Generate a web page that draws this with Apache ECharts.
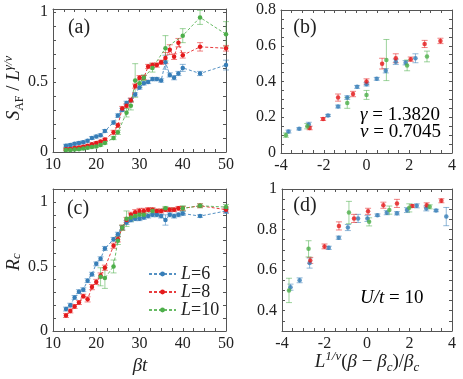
<!DOCTYPE html>
<html>
<head>
<meta charset="utf-8">
<script src="https://cdn.jsdelivr.net/npm/echarts@6/dist/echarts.min.js"></script>
<style>
  html, body { margin: 0; padding: 0; background: #fff; }
  #chart { width: 463px; height: 379px; }
</style>
</head>
<body>
<div id="chart"></div>
<script>
const SERIF = 'Liberation Serif';
const C6 = '#377eb8', C8 = '#e41a1c', C10 = '#4daf4a';

// (a) S_AF / L^(gamma/nu) vs beta*t
const aX6 = [13, 14, 15, 16, 17, 18, 19, 20, 21, 22, 24, 25, 26, 27, 28, 29, 30, 31, 32, 33, 34, 35, 36, 37, 38, 39, 40, 44, 50];
const aY6 = [0.045, 0.05, 0.058, 0.065, 0.07, 0.08, 0.10, 0.11, 0.12, 0.15, 0.21, 0.26, 0.30, 0.35, 0.37, 0.41, 0.46, 0.49, 0.50, 0.52, 0.52, 0.51, 0.64, 0.55, 0.53, 0.56, 0.60, 0.56, 0.62];
const aE6 = [0.01, 0.01, 0.01, 0.01, 0.01, 0.01, 0.01, 0.01, 0.01, 0.01, 0.012, 0.012, 0.012, 0.012, 0.012, 0.012, 0.012, 0.012, 0.012, 0.012, 0.012, 0.012, 0.05, 0.015, 0.015, 0.015, 0.025, 0.015, 0.035];
const aX8 = [13, 14, 15, 16, 17, 18, 19, 20, 21, 22, 24, 25, 26, 27, 28, 29, 30, 31, 32, 33, 34, 35, 36, 37, 38, 39, 40, 44, 50];
const aY8 = [0.02, 0.022, 0.028, 0.032, 0.038, 0.045, 0.055, 0.065, 0.075, 0.09, 0.14, 0.19, 0.31, 0.33, 0.37, 0.47, 0.53, 0.53, 0.61, 0.62, 0.62, 0.64, 0.67, 0.73, 0.68, 0.78, 0.69, 0.75, 0.74];
const aE8 = [0.008, 0.008, 0.008, 0.008, 0.008, 0.008, 0.008, 0.008, 0.008, 0.008, 0.015, 0.015, 0.015, 0.015, 0.015, 0.015, 0.015, 0.015, 0.015, 0.015, 0.015, 0.015, 0.04, 0.035, 0.02, 0.03, 0.02, 0.03, 0.02];
const aX10 = [13, 14, 15, 16, 17, 18, 19, 20, 21, 22, 24, 25, 27, 28, 29, 30, 31, 33, 36, 40, 44, 50];
const aY10 = [0.015, 0.015, 0.018, 0.02, 0.025, 0.03, 0.035, 0.04, 0.05, 0.065, 0.10, 0.14, 0.28, 0.33, 0.51, 0.49, 0.53, 0.60, 0.74, 0.83, 0.96, 0.84];
const aE10 = [0.008, 0.008, 0.008, 0.008, 0.008, 0.008, 0.008, 0.008, 0.008, 0.008, 0.012, 0.015, 0.03, 0.03, 0.12, 0.03, 0.02, 0.03, 0.09, 0.05, 0.05, 0.09];

// (b) scaling collapse of (a)
const bX6 = [-3.65, -3.15, -2.7, -1.8, -1.33, -0.9, -0.44, 0.0, 0.48, 0.9, 1.37, 1.83, 2.29];
const bY6 = [0.12, 0.135, 0.16, 0.21, 0.26, 0.31, 0.37, 0.385, 0.415, 0.46, 0.51, 0.505, 0.53];
const bE6 = [0.008, 0.006, 0.012, 0.006, 0.008, 0.01, 0.008, 0.01, 0.008, 0.012, 0.015, 0.012, 0.025];
const bX8 = [-2.66, -2.03, -1.33, -0.63, 0.0, 0.73, 1.37, 2.07, 2.72, 3.46];
const bY8 = [0.14, 0.19, 0.31, 0.33, 0.40, 0.50, 0.53, 0.525, 0.61, 0.627];
const bE8 = [0.01, 0.008, 0.02, 0.015, 0.015, 0.03, 0.025, 0.012, 0.02, 0.015];
const bX10 = [-3.77, -2.77, -0.9, 0.0, 0.93, 1.9, 2.83];
const bY10 = [0.10, 0.15, 0.28, 0.325, 0.52, 0.49, 0.54];
const bE10 = [0.012, 0.015, 0.03, 0.025, 0.115, 0.03, 0.03];

// (c) R_c vs beta*t
const cX6 = [13, 14, 15, 16, 17, 18, 19, 20, 21, 22, 24, 25, 26, 27, 28, 29, 30, 31, 32, 33, 34, 35, 36, 37, 38, 39, 40, 44, 50];
const cY6 = [0.17, 0.20, 0.26, 0.305, 0.32, 0.39, 0.44, 0.52, 0.56, 0.64, 0.71, 0.75, 0.80, 0.84, 0.86, 0.87, 0.87, 0.88, 0.89, 0.90, 0.90, 0.89, 0.86, 0.90, 0.89, 0.90, 0.91, 0.89, 0.93];
const cE6 = [0.015, 0.015, 0.015, 0.015, 0.015, 0.015, 0.015, 0.015, 0.015, 0.015, 0.015, 0.015, 0.015, 0.015, 0.015, 0.015, 0.015, 0.015, 0.015, 0.015, 0.015, 0.015, 0.04, 0.015, 0.015, 0.015, 0.015, 0.01, 0.02];
const cX8 = [13, 14, 15, 16, 17, 18, 19, 20, 21, 22, 24, 25, 26, 27, 28, 29, 30, 31, 32, 33, 34, 35, 36, 37, 38, 39, 40, 44, 50];
const cY8 = [0.12, 0.155, 0.19, 0.22, 0.27, 0.245, 0.34, 0.38, 0.43, 0.49, 0.66, 0.71, 0.80, 0.86, 0.90, 0.92, 0.93, 0.93, 0.94, 0.94, 0.93, 0.93, 0.94, 0.94, 0.94, 0.95, 0.95, 0.97, 0.94];
const cE8 = [0.015, 0.015, 0.015, 0.015, 0.015, 0.02, 0.02, 0.02, 0.02, 0.02, 0.02, 0.02, 0.02, 0.02, 0.02, 0.02, 0.02, 0.02, 0.015, 0.015, 0.015, 0.015, 0.015, 0.015, 0.015, 0.015, 0.015, 0.015, 0.02];
const cX10 = [21, 22, 24, 25, 26, 27, 28, 29, 30, 31, 33, 36, 40, 44, 50];
const cY10 = [0.42, 0.41, 0.50, 0.70, 0.80, 0.87, 0.88, 0.89, 0.90, 0.90, 0.93, 0.95, 0.95, 0.97, 0.96];
const cE10 = [0.07, 0.08, 0.05, 0.03, 0.02, 0.06, 0.03, 0.02, 0.02, 0.02, 0.02, 0.015, 0.02, 0.015, 0.02];

// (d) scaling collapse of (c)
const dX6 = [-3.6, -3.17, -2.7, -1.8, -1.33, -0.9, -0.42, 0.02, 0.49, 0.93, 1.41, 1.88, 2.34, 2.79, 3.25, 3.73];
const dY6 = [0.516, 0.55, 0.635, 0.71, 0.76, 0.81, 0.855, 0.855, 0.871, 0.883, 0.88, 0.896, 0.917, 0.904, 0.894, 0.864];
const dE6 = [0.015, 0.012, 0.025, 0.008, 0.008, 0.015, 0.02, 0.015, 0.006, 0.01, 0.008, 0.012, 0.01, 0.012, 0.006, 0.045];
const dX8 = [-2.67, -2.0, -1.32, -0.61, 0.05, 0.77, 1.41, 2.13, 2.81, 3.5];
const dY8 = [0.648, 0.717, 0.818, 0.855, 0.89, 0.92, 0.929, 0.916, 0.92, 0.942];
const dE8 = [0.015, 0.012, 0.02, 0.02, 0.015, 0.015, 0.02, 0.006, 0.012, 0.01];
const dX10 = [-3.67, -2.75, -0.85, 0.1, 1.05, 1.99, 2.95];
const dY10 = [0.50, 0.705, 0.884, 0.838, 0.896, 0.907, 0.912];
const dE10 = [0.06, 0.04, 0.055, 0.02, 0.02, 0.02, 0.01];

const legendNames = ['L=6', 'L=8', 'L=10'];

function pts(xs, ys, es) {
  return xs.map((x, i) => [x, ys[i], es[i]]);
}

function fmt(v) {
  return String(parseFloat(v.toFixed(2)));
}

// one axis; step = tick spacing, every = label spacing
function axis(gi, pos, min, max, step, every, labels) {
  return {
    type: 'value', gridIndex: gi, position: pos,
    min: min, max: max, interval: step,
    axisLine: { show: true, onZero: false, lineStyle: { color: '#555', width: 1 } },
    axisTick: { show: true, inside: true, length: 3, lineStyle: { color: '#555', width: 1 } },
    splitLine: { show: false },
    axisLabel: {
      show: labels, color: '#222', fontFamily: SERIF, fontSize: 16, margin: 5,
      formatter: function (v) {
        const k = v / every;
        return Math.abs(k - Math.round(k)) < 1e-6 ? fmt(v) : '';
      }
    }
  };
}

function errBars(color) {
  return function (params, api) {
    const x = api.value(0), y = api.value(1), e = api.value(2);
    const t = api.coord([x, y + e]), b = api.coord([x, y - e]);
    const hw = 3;
    const st = { stroke: color, lineWidth: 1, opacity: 0.55 };
    return {
      type: 'group',
      children: [
        { type: 'line', shape: { x1: t[0], y1: t[1], x2: b[0], y2: b[1] }, style: st },
        { type: 'line', shape: { x1: t[0] - hw, y1: t[1], x2: t[0] + hw, y2: t[1] }, style: st },
        { type: 'line', shape: { x1: b[0] - hw, y1: b[1], x2: b[0] + hw, y2: b[1] }, style: st }
      ]
    };
  };
}

const series = [];
function addSet(gi, name, color, data, withLine) {
  series.push({
    type: 'custom', name: name + '-err', xAxisIndex: gi * 2, yAxisIndex: gi * 2,
    renderItem: errBars(color), data: data, encode: { x: 0, y: 1 }, z: 2, silent: true
  });
  series.push({
    type: withLine ? 'line' : 'scatter', name: name,
    xAxisIndex: gi * 2, yAxisIndex: gi * 2,
    data: data.map(d => [d[0], d[1]]),
    symbol: 'circle', symbolSize: 4.5,
    itemStyle: { color: color },
    lineStyle: { color: color, width: 1, type: [3, 2], opacity: 0.85 },
    z: 3, animation: false
  });
}

addSet(0, 'a6', C6, pts(aX6, aY6, aE6), true);
addSet(0, 'a8', C8, pts(aX8, aY8, aE8), true);
addSet(0, 'a10', C10, pts(aX10, aY10, aE10), true);
addSet(1, 'b6', C6, pts(bX6, bY6, bE6), false);
addSet(1, 'b8', C8, pts(bX8, bY8, bE8), false);
addSet(1, 'b10', C10, pts(bX10, bY10, bE10), false);
addSet(2, legendNames[0], C6, pts(cX6, cY6, cE6), true);
addSet(2, legendNames[1], C8, pts(cX8, cY8, cE8), true);
addSet(2, legendNames[2], C10, pts(cX10, cY10, cE10), true);
addSet(3, 'd6', C6, pts(dX6, dY6, dE6), false);
addSet(3, 'd8', C8, pts(dX8, dY8, dE8), false);
addSet(3, 'd10', C10, pts(dX10, dY10, dE10), false);

const xAxes = [
  axis(0, 'bottom', 10, 50, 2.5, 10, true), axis(0, 'top', 10, 50, 2.5, 10, false),
  axis(1, 'bottom', -4, 4, 0.5, 2, true), axis(1, 'top', -4, 4, 0.5, 2, false),
  axis(2, 'bottom', 10, 50, 2.5, 10, true), axis(2, 'top', 10, 50, 2.5, 10, false),
  axis(3, 'bottom', -4, 4, 0.5, 2, true), axis(3, 'top', -4, 4, 0.5, 2, false)
];
const yAxes = [
  axis(0, 'left', 0, 1.02, 0.1, 0.5, true), axis(0, 'right', 0, 1.02, 0.1, 0.5, false),
  axis(1, 'left', 0, 0.8, 0.05, 0.2, true), axis(1, 'right', 0, 0.8, 0.05, 0.2, false),
  axis(2, 'left', 0, 1.1, 0.1, 0.5, true), axis(2, 'right', 0, 1.1, 0.1, 0.5, false),
  axis(3, 'left', 0.3, 1.0, 0.05, 0.2, true), axis(3, 'right', 0.3, 1.0, 0.05, 0.2, false)
];

const rich = {
  i: { fontFamily: SERIF, fontStyle: 'italic', fontSize: 19, color: '#222' },
  r: { fontFamily: SERIF, fontSize: 19, color: '#222' },
  sub: { fontFamily: SERIF, fontSize: 12, color: '#222', verticalAlign: 'bottom', lineHeight: 14 },
  subi: { fontFamily: SERIF, fontStyle: 'italic', fontSize: 13, color: '#222', verticalAlign: 'bottom', lineHeight: 14 },
  sup: { fontFamily: SERIF, fontStyle: 'italic', fontSize: 13, color: '#222', verticalAlign: 'top', lineHeight: 24 }
};

function txt(x, y, text, size, rot) {
  return {
    type: 'text', x: x, y: y, rotation: rot || 0,
    style: {
      text: text, fontFamily: SERIF, fontSize: size, fill: '#222',
      align: 'center', verticalAlign: 'middle', rich: rich
    }
  };
}

const chart = echarts.init(document.getElementById('chart'));
chart.setOption({
  animation: false,
  backgroundColor: '#fff',
  grid: [
    { left: 53, top: 9, width: 173, height: 143, outerBoundsMode: 'none' },
    { left: 281, top: 10, width: 171, height: 143, outerBoundsMode: 'none' },
    { left: 53, top: 189, width: 173, height: 142, outerBoundsMode: 'none' },
    { left: 282, top: 189, width: 170, height: 142, outerBoundsMode: 'none' }
  ],
  xAxis: xAxes,
  yAxis: yAxes,
  legend: {
    data: legendNames, orient: 'vertical', left: 143, top: 260,
    itemWidth: 27, itemHeight: 6, itemGap: 0,
    formatter: function (n) { return '{i|L}{r|=' + n.slice(2) + '}'; },
    textStyle: { rich: {
      i: { fontFamily: SERIF, fontStyle: 'italic', fontSize: 18, color: '#222', lineHeight: 19 },
      r: { fontFamily: SERIF, fontSize: 18, color: '#222', lineHeight: 19 }
    } }
  },
  graphic: [
    txt(79, 28, '(a)', 20),
    txt(305, 28, '(b)', 20),
    txt(78, 209, '(c)', 20),
    txt(305, 206, '(d)', 20),
    txt(14, 88, '{i|S}{sub|AF}{r| / }{i|L}{sup|γ/ν}', 19, Math.PI / 2),
    txt(14, 262, '{i|R}{subi|c}', 19, Math.PI / 2),
    txt(140, 366, '{i|βt}', 19),
    txt(367, 362, '{i|L}{sup|1/ν}{r|(}{i|β}{r| − }{i|β}{subi|c}{r|)/}{i|β}{subi|c}', 19),
    { type: 'text', x: 360, y: 115, style: { text: '{i|γ}{r| = 1.3820}', rich: rich, verticalAlign: 'middle' } },
    { type: 'text', x: 360, y: 132, style: { text: '{i|ν}{r| = 0.7045}', rich: rich, verticalAlign: 'middle' } },
    { type: 'text', x: 360, y: 298, style: { text: '{i|U/t}{r| = 10}', rich: rich, verticalAlign: 'middle' } }
  ],
  series: series
});
</script>
</body>
</html>
